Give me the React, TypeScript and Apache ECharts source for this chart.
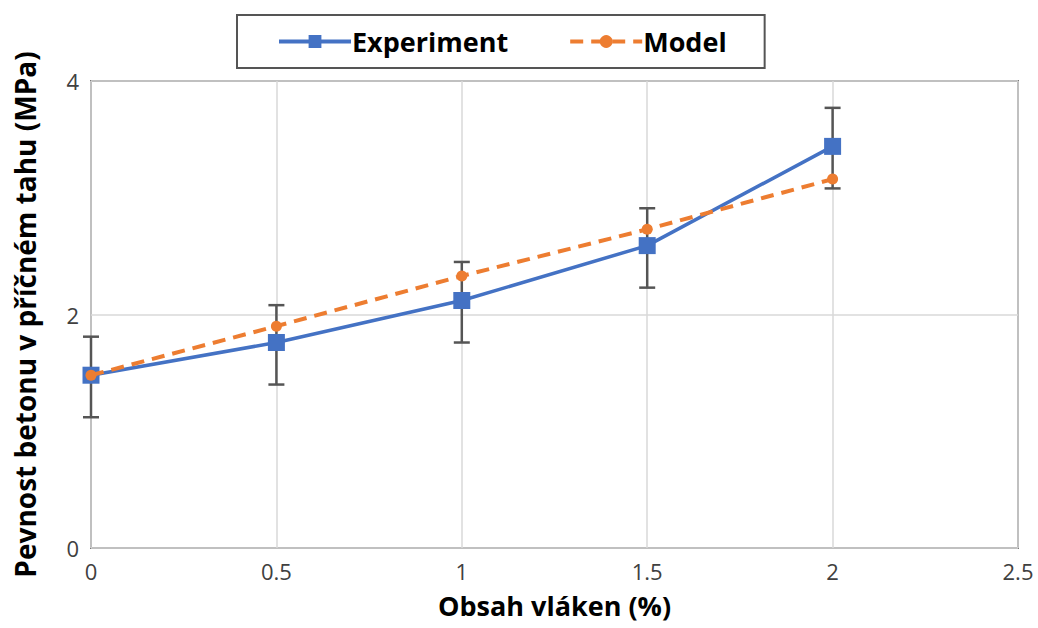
import React, { useEffect, useRef } from "react";
import * as echarts from "echarts";

const fiberContent = [0, 0.5, 1, 1.5, 2];
const experiment = [1.48, 1.76, 2.12, 2.59, 3.44];
const errLow = [1.12, 1.4, 1.76, 2.23, 3.08];
const errHigh = [1.81, 2.08, 2.45, 2.91, 3.77];
const model = [1.48, 1.9, 2.33, 2.73, 3.16];

export default function App() {
  const ref = useRef<HTMLDivElement>(null);
  useEffect(() => {
    if (!ref.current) return;
    const chart = echarts.init(ref.current, undefined, { renderer: "svg" });
    const font = "'Open Sans', 'Noto Sans', sans-serif";
    chart.setOption({
      animation: false,
      backgroundColor: "#ffffff",
      grid: {
        left: 91,
        right: 20,
        top: 81,
        bottom: 80,
        show: true,
        borderColor: "#7a7a7a",
        borderWidth: 2,
        containLabel: false,
        outerBoundsMode: "none",
      },
      legend: {
        data: ["Experiment", "Model"],
        left: 237,
        top: 15,
        padding: [13, 38, 13, 40],
        borderColor: "#555555",
        borderWidth: 2,
        itemWidth: 72,
        itemHeight: 16,
        itemGap: 60,
        lineStyle: { width: 4 },
        textStyle: { fontFamily: font, fontSize: 27, fontWeight: "bold", color: "#000", padding: [0, 0, 0, -4] },
      },
      xAxis: {
        type: "value",
        min: 0,
        max: 2.5,
        interval: 0.5,
        name: "Obsah vláken (%)",
        nameLocation: "middle",
        nameGap: 44,
        nameTextStyle: { fontFamily: font, fontSize: 27, fontWeight: "bold", color: "#000" },
        axisLine: { show: false },
        axisTick: { show: false },
        axisLabel: { fontFamily: font, fontSize: 22, color: "#404040", margin: 12 },
        splitLine: { show: true, lineStyle: { color: "#d9d9d9", width: 1.5 } },
      },
      yAxis: {
        type: "value",
        min: 0,
        max: 4,
        interval: 2,
        name: "Pevnost betonu v příčném tahu (MPa)",
        nameLocation: "middle",
        nameGap: 52,
        nameTextStyle: { fontFamily: font, fontSize: 28, fontWeight: "bold", color: "#000" },
        axisLine: { show: false },
        axisTick: { show: false },
        axisLabel: { fontFamily: font, fontSize: 22, color: "#404040", margin: 12 },
        splitLine: { show: true, lineStyle: { color: "#d9d9d9", width: 1.5 } },
      },
      series: [
        {
          type: "custom",
          name: "err",
          data: fiberContent.map((x, i) => [x, errLow[i], errHigh[i]]),
          z: 1,
          renderItem: (params: any, api: any) => {
            const x = api.value(0);
            const lo = api.coord([x, api.value(1)]);
            const hi = api.coord([x, api.value(2)]);
            const w = 8;
            const style = { stroke: "#555555", lineWidth: 2.5 };
            return {
              type: "group",
              children: [
                { type: "line", shape: { x1: lo[0], y1: lo[1], x2: hi[0], y2: hi[1] }, style },
                { type: "line", shape: { x1: lo[0] - w, y1: lo[1], x2: lo[0] + w, y2: lo[1] }, style },
                { type: "line", shape: { x1: hi[0] - w, y1: hi[1], x2: hi[0] + w, y2: hi[1] }, style },
              ],
            };
          },
        },
        {
          type: "line",
          name: "Experiment",
          data: fiberContent.map((x, i) => [x, experiment[i]]),
          symbol: "rect",
          symbolSize: 17,
          z: 3,
          itemStyle: { color: "#4472C4" },
          lineStyle: { color: "#4472C4", width: 3.5 },
        },
        {
          type: "line",
          name: "Model",
          data: fiberContent.map((x, i) => [x, model[i]]),
          symbol: "circle",
          symbolSize: 11,
          z: 4,
          itemStyle: { color: "#ED7D31" },
          lineStyle: { color: "#ED7D31", width: 4, type: [13, 8] },
        },
      ],
    });
    return () => chart.dispose();
  }, []);
  return (
    <div
      ref={ref}
      style={{ position: "fixed", left: 0, top: 0, width: 1038, height: 628 }}
    />
  );
}
